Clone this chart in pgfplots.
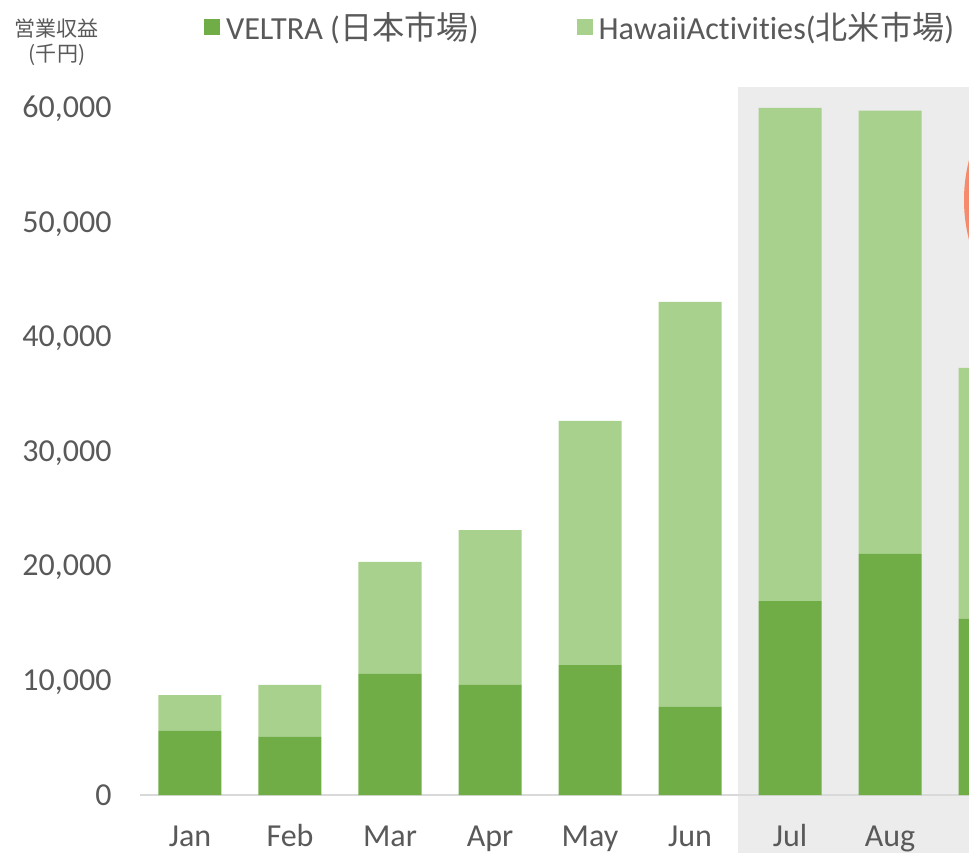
\documentclass[border=0pt]{standalone}
\usepackage{fontspec}
\setmainfont{Carlito}[Ligatures=NoCommon]
\newfontfamily\cjk{Noto Sans CJK JP}
\usepackage{pgfplots}
\pgfplotsset{compat=1.18}
\definecolor{dk}{HTML}{70AD47}
\definecolor{lt}{HTML}{A9D18E}
\definecolor{txt}{HTML}{595959}
\definecolor{bgc}{HTML}{ECECEC}
\definecolor{axc}{HTML}{D9D9D9}
\definecolor{org}{HTML}{F58A6C}
\begin{document}
\begin{tikzpicture}
\path[use as bounding box, clip] (-70pt,-28.5pt) rectangle (414.5pt,397.5pt);
\fill[bgc] (299pt,354.1pt) rectangle (420pt,-30pt);
\begin{axis}[
  at={(0,0)}, anchor=south west,
  scale only axis, width=414.5pt, height=355pt,
  clip=false,
  xmin=-0.5, xmax=7.79, ymin=0, ymax=62000,
  ybar stacked, bar width=0.63,
  axis x line=bottom, axis y line=left,
  x axis line style={draw=axc, line width=1pt, -},
  y axis line style={draw=none},
  major tick length=0,
  xtick={0,1,2,3,4,5,6,7,8},
  xticklabels={Jan,Feb,Mar,Apr,May,Jun,Jul,Aug,Sep},
  ytick={0,10000,20000,30000,40000,50000,60000},
  scaled y ticks=false,
  /pgf/number format/.cd, 1000 sep={,}, assume math mode=true, /pgfplots/.cd,
  tick label style={font=\fontsize{16}{19}\selectfont, text=txt},
  xticklabel style={anchor=base, yshift=-25.5pt},
  yticklabel style={anchor=base east, xshift=-10.7pt, yshift=-5pt},
  legend columns=2,
  legend style={at={(0.0695,1.0817)}, anchor=west, draw=none, fill=none,
    font=\fontsize{16.1}{19}\selectfont, text=txt,
    /tikz/every even column/.append style={column sep=47pt}},
  legend cell align=left,
]
\addplot[fill=dk, draw=none, legend image code/.code={\fill[dk] (0pt,-4pt) rectangle (8pt,4pt);}]
  coordinates {(0,5590) (1,5070) (2,10570) (3,9610) (4,11350) (5,7690) (6,16940) (7,21050) (8,15400)};
\addplot[fill=lt, draw=none, legend image code/.code={\fill[lt] (0pt,-4pt) rectangle (8pt,4pt);}]
  coordinates {(0,3140) (1,4540) (2,9780) (3,13530) (4,21310) (5,35370) (6,43060) (7,38720) (8,21890)};
\legend{\hspace{1pt}VELTRA ({\cjk 日本市場}),\hspace{1pt}HawaiiActivities({\cjk 北米市場})}
\end{axis}
\fill[org] (492pt,297.5pt) circle (80pt);
\node[align=center, text=txt, font=\cjk\fontsize{10.5}{12.5}\selectfont, inner sep=0pt] at (-41.5pt,376.5pt) {営業収益\\(千円)};
\end{tikzpicture}
\end{document}
